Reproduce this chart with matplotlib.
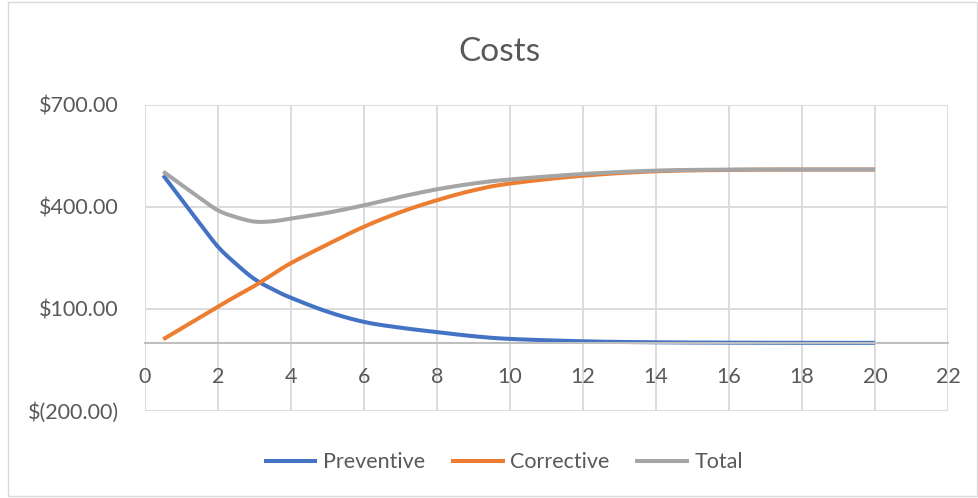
import numpy as np
import matplotlib
matplotlib.use("Agg")
import matplotlib.pyplot as plt
from matplotlib.ticker import FuncFormatter
from matplotlib.patches import Rectangle

plt.rcParams['font.family'] = ['Lato', 'DejaVu Sans']

# Interval (x) and cost series
interval = [0.5, 1, 1.5, 2, 2.5, 3, 3.5, 4, 5, 6, 7, 8, 9, 10, 12, 14, 16, 18, 20]
preventive = [493, 422, 352, 283, 232, 188, 158, 133, 92, 62, 45, 32, 20, 12, 5, 2, 1, 0.5, 0.5]
corrective = [11, 43, 75, 107, 138, 168, 202, 235, 290, 342, 385, 420, 449, 469, 492, 505, 509, 510, 510]
total = [504, 465, 427, 390, 370, 357, 358, 366, 383, 405, 430, 452, 469, 481, 497, 507, 510, 510.5, 510.5]

series_names = ["Preventive", "Corrective", "Total"]
series_colors = ["#4472C4", "#ED7D31", "#A5A5A5"]
y_ticks = [-200, 100, 400, 700]
x_ticks = list(range(0, 23, 2))

text_color = "#595959"


def smooth(xs, ys, n=30):
    """Smoothed line through the points using cubic Bezier segments."""
    p = np.column_stack([xs, ys]).astype(float)
    m = len(p)
    out = [p[0]]
    t = np.linspace(0, 1, n)[1:, None]
    for i in range(m - 1):
        p0 = p[i - 1] if i > 0 else p[i]
        p1, p2 = p[i], p[i + 1]
        p3 = p[i + 2] if i + 2 < m else p[i + 1]
        c1 = p1 + (p2 - p0) / 6.0
        c2 = p2 - (p3 - p1) / 6.0
        seg = ((1 - t) ** 3) * p1 + 3 * ((1 - t) ** 2) * t * c1 \
            + 3 * (1 - t) * t ** 2 * c2 + t ** 3 * p2
        out.extend(seg)
    out = np.array(out)
    return out[:, 0], out[:, 1]


fig = plt.figure(figsize=(9.79, 4.98), dpi=100)
fig.patch.set_facecolor("white")
fig.add_artist(Rectangle((0.008, 0.004), 0.99, 0.992, transform=fig.transFigure,
                         fill=False, edgecolor="#D9D9D9", linewidth=1.0))

ax = fig.add_axes([0.1481, 0.1747, 0.8202, 0.6145])
for ys, name, col in zip([preventive, corrective, total], series_names, series_colors):
    sx, sy = smooth(interval, ys)
    ax.plot(sx, sy, color=col, linewidth=2.9, label=name,
            solid_capstyle="butt", solid_joinstyle="round")

ax.set_xlim(0, 22)
ax.set_ylim(-200, 700)
ax.set_xticks(x_ticks)
ax.set_yticks(y_ticks)


def money(v, _):
    if v < 0:
        return "$({:,.2f})".format(-v)
    return "${:,.2f}".format(v)


ax.yaxis.set_major_formatter(FuncFormatter(money))
ax.grid(True, color="#D9D9D9", linewidth=1.3)
ax.set_axisbelow(True)
for s in ["top", "right", "left"]:
    ax.spines[s].set_visible(False)
ax.spines["bottom"].set_position(("data", 0))
ax.spines["bottom"].set_color("#BFBFBF")
ax.spines["bottom"].set_linewidth(1.5)
ax.tick_params(axis="both", length=0, labelsize=15.5, labelcolor=text_color)
ax.tick_params(axis="x", pad=17)
ax.tick_params(axis="y", pad=19)

fig.text(0.51, 0.895, "Costs", ha="center", va="center", fontsize=24, color=text_color)

leg = fig.legend(loc="center", bbox_to_anchor=(0.514, 0.072), ncol=3, frameon=False,
                 fontsize=15.5, handlelength=2.5, columnspacing=1.2, handletextpad=0.25)
for t in leg.get_texts():
    t.set_color(text_color)

fig.savefig("out.png", dpi=100)
